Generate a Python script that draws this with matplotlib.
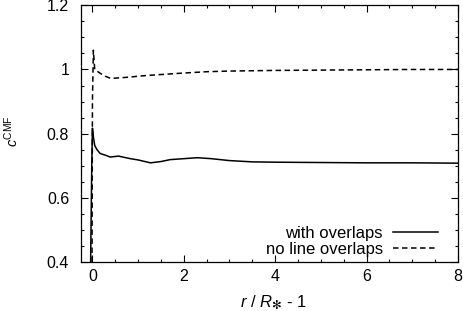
import matplotlib
matplotlib.use("Agg")
import matplotlib.pyplot as plt
from matplotlib.ticker import MultipleLocator

# c^CMF versus r/R* - 1
x_overlap = [-0.04, -0.015, 0.0, 0.02, 0.05, 0.1, 0.17, 0.3, 0.39, 0.57, 0.83, 1.0, 1.27,
             1.5, 1.7, 2.0, 2.3, 2.6, 3.0, 3.5, 4.0, 5.0, 6.0, 7.0, 8.0]
y_overlap = [0.4, 0.7, 0.817, 0.79, 0.763, 0.75, 0.738, 0.732, 0.727, 0.73, 0.722, 0.718, 0.709,
             0.713, 0.719, 0.722, 0.725, 0.722, 0.716, 0.712, 0.711, 0.710, 0.709, 0.709, 0.708]

x_nolap = [-0.01, 0.0, 0.02, 0.05, 0.1, 0.17, 0.28, 0.4, 0.6, 0.8, 1.0, 1.27, 1.9,
           2.5, 3.0, 4.0, 5.0, 6.0, 7.0, 8.0]
y_nolap = [0.4, 0.9, 1.06, 1.0, 0.995, 0.988, 0.979, 0.972, 0.974, 0.976, 0.979, 0.982, 0.988,
           0.993, 0.995, 0.997, 0.998, 0.999, 1.0, 1.0]

labels = ["with overlaps", "no line overlaps"]

plt.rcParams['font.family'] = ['Liberation Sans', 'DejaVu Sans']
plt.rcParams['mathtext.fontset'] = 'custom'
plt.rcParams['mathtext.rm'] = 'Liberation Sans'
plt.rcParams['mathtext.it'] = 'Liberation Sans:italic'
plt.rcParams['mathtext.sf'] = 'DejaVu Sans'
plt.rcParams['font.size'] = 11.5

fig = plt.figure(figsize=(4.63, 3.11), dpi=100)
ax = fig.add_axes((0.175, 0.1576, 0.814, 0.8254))

ax.plot(x_overlap, y_overlap, color='black', lw=1.1, label=labels[0])
ax.plot(x_nolap, y_nolap, color='black', lw=1.1, ls=(0, (3.6, 2.3)), label=labels[1])

ax.set_xlim(-0.25, 8)
ax.set_ylim(0.4, 1.2)
ax.set_xticks([0, 2, 4, 6, 8])
ax.set_yticks([0.4, 0.6, 0.8, 1.0, 1.2])
ax.set_yticklabels(['0.4', '0.6', '0.8', '1', '1.2'])
ax.xaxis.set_minor_locator(MultipleLocator(0.5))
ax.yaxis.set_minor_locator(MultipleLocator(0.05))
ax.tick_params(which='both', direction='in', top=True, right=True, width=0.8)
ax.tick_params(which='major', length=5)
ax.tick_params(which='minor', length=2.5)
ax.tick_params(axis='x', which='major', pad=5)
ax.tick_params(axis='y', which='major', pad=8.5)
for s in ax.spines.values():
    s.set_linewidth(0.9)

ax.set_xlabel(r'$r$ / $R_{\mathsf{✻}}$ - 1', fontsize=12)
ax.xaxis.set_label_coords(0.51, -0.12)
ax.set_ylabel(r'$c^{\rm CMF}$', fontsize=10.5)
ax.yaxis.set_label_coords(-0.16, 0.51)

leg = ax.legend(loc='lower right', bbox_to_anchor=(0.96, 0.0), frameon=False,
                markerfirst=False, handlelength=2.7, handletextpad=0.6,
                labelspacing=0.05, borderaxespad=0.0, borderpad=0.3, fontsize=12)
for t in leg.get_texts():
    t.set_ha('right')

fig.savefig('out.png', dpi=100)
